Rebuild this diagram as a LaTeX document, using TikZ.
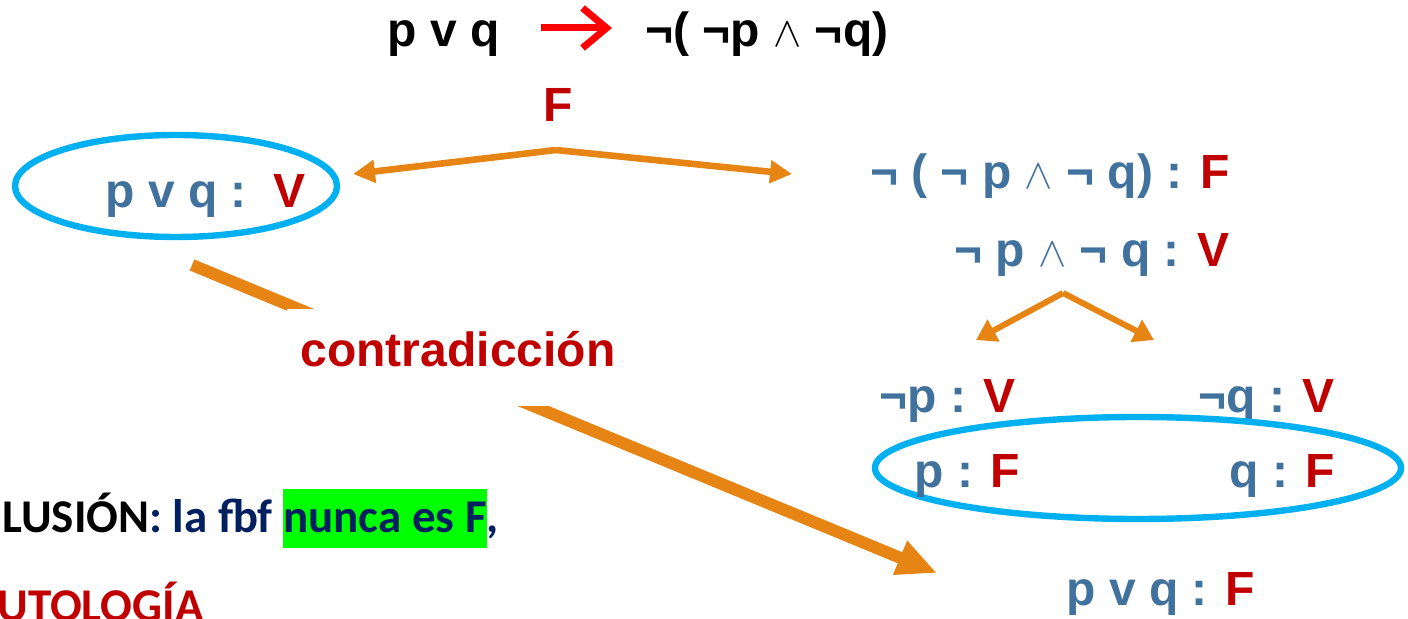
\documentclass[tikz,border=0pt]{standalone}
\usepackage{fontspec}
\setmainfont{Liberation Sans}
\newfontfamily\calfont{Carlito}
\usetikzlibrary{arrows.meta,bending,shapes.geometric}
\definecolor{txtblue}{RGB}{65,114,157}
\definecolor{valred}{RGB}{192,0,0}
\definecolor{arrorange}{RGB}{230,132,20}
\definecolor{ringcyan}{RGB}{0,176,240}
\definecolor{navy}{RGB}{0,32,96}
\definecolor{hlgreen}{RGB}{0,255,0}
\newcommand{\tv}[1]{\textcolor{valred}{#1}}
\newcommand{\andop}{\scalebox{0.85}{$\wedge$}}
\tikzset{
  lbl/.style={font=\bfseries\fontsize{24}{28}\selectfont, inner sep=0pt},
  bluelbl/.style={lbl, text=txtblue},
  conclbl/.style={font=\calfont\bfseries\fontsize{23.5}{28}\selectfont, inner sep=0pt},
  ring/.style={draw=ringcyan, line width=3.2pt, ellipse, inner sep=0pt},
  fork/.style={draw=arrorange, line width=3.3pt, -{Triangle[length=11pt,width=11pt]}},
  smallfork/.style={draw=arrorange, line width=3pt, -{Triangle[length=10pt,width=12pt]}},
  bigarrow/.style={draw=arrorange, line width=6pt, -{Triangle[length=20pt,width=17pt]}},
  toparrow/.style={draw=red, line width=3.5pt, -{Straight Barb[bend,length=12pt,width=20pt]}}
}
\begin{document}
\begin{tikzpicture}[x=0.5pt,y=-0.5pt]
  \useasboundingbox (0,0) rectangle (1408,619);
  \clip (0,0) rectangle (1408,619);
  % formula on top
  \node[lbl, anchor=base west] (tl) at (387,47) {p v q};
  \node[lbl, anchor=base west] (tr) at (645,47) {¬( ¬p \andop{} ¬q)};
  \coordinate (ta) at (541,28);
  \coordinate (tb) at (612,28);
  \draw[toparrow] (ta) -- (tb);
  % first split
  \node[lbl, text=valred, anchor=base] (fval) at (558,122) {F};
  \coordinate (apex) at (556,150);
  \coordinate (ltip) at (353,174);
  \coordinate (rtip) at (792,174);
  \draw[fork] (apex) -- (ltip);
  \draw[fork] (apex) -- (rtip);
  % left branch
  \node[ring, minimum width=161pt, minimum height=51pt] (lring) at (176,186) {};
  \node[bluelbl, anchor=base west] (lval) at (105,208) {p v q :\ \ \tv{V}};
  % right branch
  \node[bluelbl, anchor=base east] (neg) at (1230,189) {¬ ( ¬ p \andop{} ¬ q) : \tv{F}};
  \node[bluelbl, anchor=base east] (conj) at (1230,267) {¬ p \andop{} ¬ q : \tv{V}};
  \coordinate (apex2) at (1063,293);
  \coordinate (ptip) at (976,340);
  \coordinate (qtip) at (1154,340);
  \draw[smallfork] (apex2) -- (ptip);
  \draw[smallfork] (apex2) -- (qtip);
  \node[bluelbl, anchor=base west] (np) at (879,413) {¬p : \tv{V}};
  \node[bluelbl, anchor=base west] (nq) at (1198,413) {¬q : \tv{V}};
  \node[ring, minimum width=263pt, minimum height=51pt] (rring) at (1138,468) {};
  \node[bluelbl, anchor=base west] (pval) at (914,488) {p : \tv{F}};
  \node[bluelbl, anchor=base west] (qval) at (1229,488) {q : \tv{F}};
  \node[bluelbl, anchor=base west] (res) at (1066,606) {p v q : \tv{F}};
  % contradiction
  \coordinate (bstart) at (192,265);
  \coordinate (bend) at (937,573);
  \draw[bigarrow] (bstart) -- (bend);
  \node[lbl, text=valred, fill=white, anchor=base, inner xsep=7pt,
        text height=29pt, text depth=19.5pt] (contra) at (458,367) {contradicción};
  % conclusion
  \node[conclbl, anchor=base west] (concl) at (2,533)
    {LUSIÓN\textcolor{navy}{: la fbf {\fboxsep=0pt\colorbox{hlgreen}{\rule[-7.5pt]{0pt}{29.5pt}nunca es F}},}};
  \node[conclbl, text=valred, anchor=base west] (tauto) at (-3,622) {UTOLOGÍA};
\end{tikzpicture}
\end{document}
